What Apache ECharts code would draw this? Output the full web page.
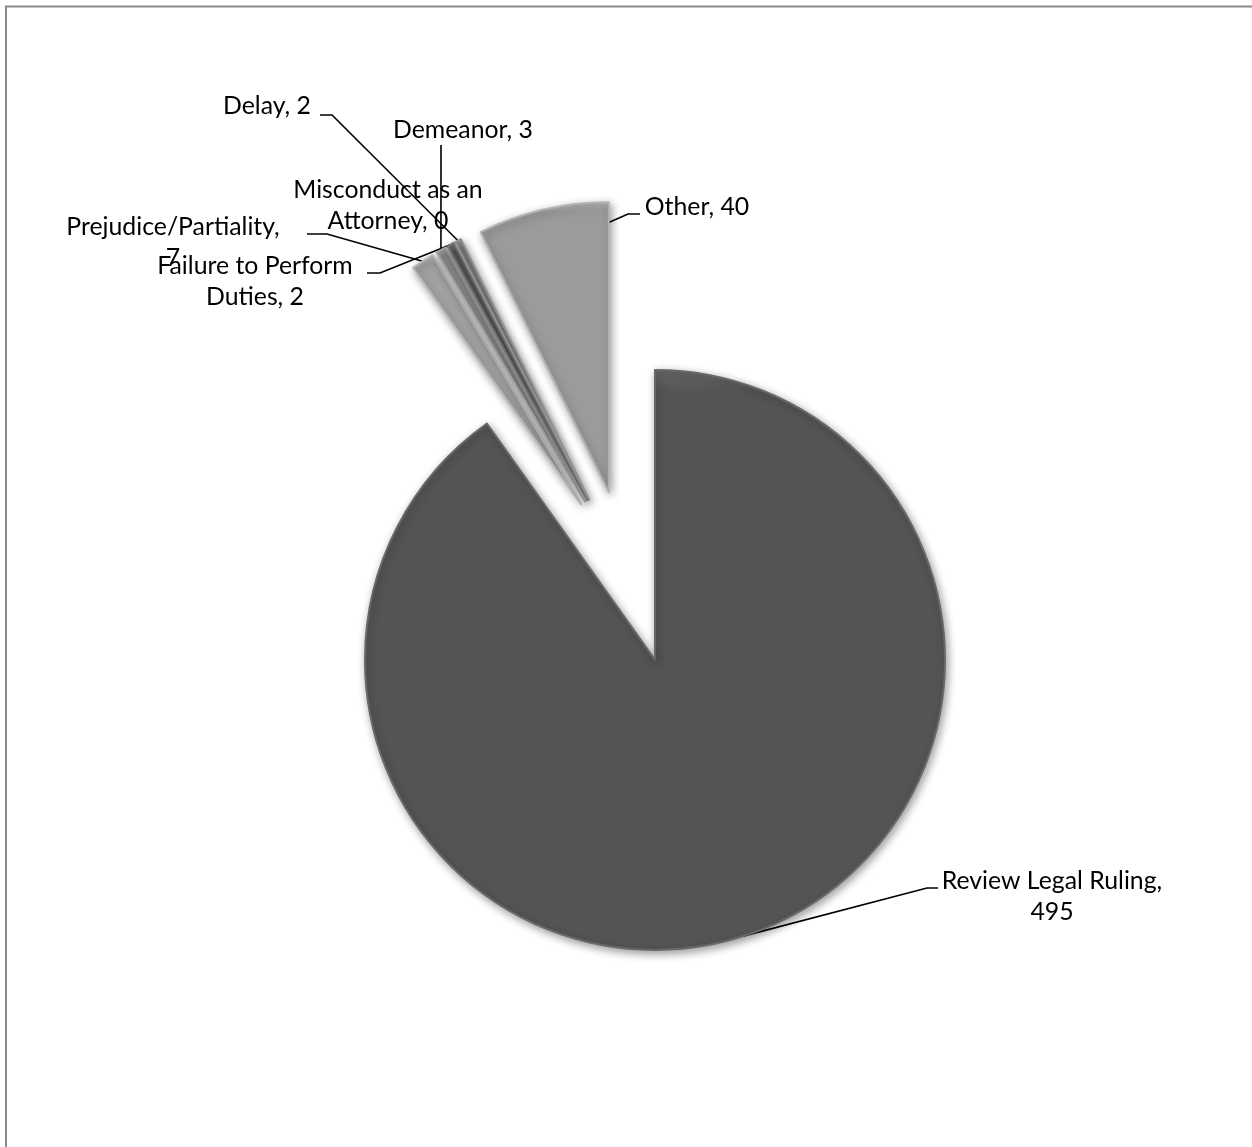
<!DOCTYPE html>
<html>
<head>
<meta charset="utf-8">
<title>Complaints by category</title>
<script src="https://cdn.jsdelivr.net/npm/echarts@6/dist/echarts.min.js"></script>
<style>
  html, body { margin: 0; padding: 0; background: #ffffff; }
  #chart { width: 1252px; height: 1147px; }
</style>
</head>
<body>
<div id="chart"></div>
<script>
// Complaint categories, in clockwise order starting at 12 o'clock
const categories = [
  'Review Legal Ruling',
  'Prejudice/Partiality',
  'Demeanor',
  'Failure to Perform Duties',
  'Misconduct as an Attorney',
  'Delay',
  'Other'
];
const counts = [495, 7, 3, 2, 0, 2, 40];
const sliceColors = ['#545454', '#a2a2a2', '#8e8e8e', '#616161', '#6e6e6e', '#7c7c7c', '#9b9b9b'];
const rimColors   = ['#686868', '#b8b8b8', '#a4a4a4', '#777777', '#848484', '#929292', '#b2b2b2'];

// Where the category labels wrap onto a second line
const wrapPoints = ['Ruling, ', 'as an ', 'Partiality, ', 'Perform '];

// Pie geometry (pixels)
const pieCenter = [628.5, 577];
const pieRadius = 290;
const explodeDistance = 87;

// Label placement: text centre, leader elbow and leader end beside the text
const labelPlacement = [
  { pos: [1052, 897], elbow: [927, 888], end: [938, 888] },
  { pos: [173, 243],  elbow: [327, 234], end: [307, 234] },
  { pos: [463, 130],  elbow: [441, 146], end: [441, 145] },
  { pos: [255, 282],  elbow: [380, 273], end: [367, 273] },
  { pos: [388, 206],  elbow: null,       end: null },
  { pos: [267, 106],  elbow: [332, 115], end: [320, 115] },
  { pos: [697, 207],  elbow: [628, 214], end: [640, 214], anchorOnEdge: 0.93 }
];

function labelText(name, value) {
  let s = name + ', ' + value;
  wrapPoints.forEach(function (w) {
    s = s.replace(w, w.trimEnd() + '\n');
  });
  return s;
}

// light-to-dark top-down shading of a slice
function sliceFill(base, rim) {
  return {
    type: 'linear', x: 0, y: 0, x2: 0, y2: 1,
    colorStops: [
      { offset: 0, color: rim },
      { offset: 0.04, color: base },
      { offset: 1, color: base }
    ]
  };
}

const total = counts.reduce(function (a, b) { return a + b; }, 0);
const series = [];
let running = 0;

counts.forEach(function (value, i) {
  const a0 = running / total * Math.PI * 2;
  running += value;
  const a1 = running / total * Math.PI * 2;
  const mid = (a0 + a1) / 2;
  // each slice is pulled out along its own bisector
  const cx = pieCenter[0] + explodeDistance * Math.sin(mid);
  const cy = pieCenter[1] - explodeDistance * Math.cos(mid);
  const place = labelPlacement[i];

  series.push({
    type: 'pie',
    center: [cx, cy],
    radius: pieRadius,
    startAngle: 90,
    clockwise: true,
    avoidLabelOverlap: false,
    silent: true,
    animation: false,
    emphasis: { disabled: true },
    label: {
      show: false,
      position: 'outside',
      color: '#000000',
      fontFamily: 'Lato, "Open Sans", sans-serif',
      fontSize: 24.8,
      lineHeight: 31,
      align: 'center',
      formatter: function (p) { return labelText(p.name, p.value); }
    },
    labelLine: {
      show: false,
      length: 10,
      length2: 10,
      lineStyle: { color: '#000000', width: 1.6 }
    },
    labelLayout: function (params) {
      if (params.dataIndex !== i) { return {}; }
      const out = {
        x: place.pos[0],
        y: place.pos[1],
        align: 'center',
        verticalAlign: 'middle'
      };
      if (place.elbow && params.labelLinePoints) {
        let start = params.labelLinePoints[0];
        if (place.anchorOnEdge) {
          const r = pieRadius * place.anchorOnEdge;
          start = [cx + r * Math.sin(a1), cy - r * Math.cos(a1)];
        }
        out.labelLinePoints = [start, place.elbow, place.end];
      }
      return out;
    },
    data: categories.map(function (name, j) {
      const own = j === i;
      return {
        name: name,
        value: counts[j],
        itemStyle: own ? {
          color: sliceFill(sliceColors[j], rimColors[j]),
          borderColor: rimColors[j],
          borderWidth: 2,
          shadowBlur: 9,
          shadowOffsetX: 2,
          shadowOffsetY: 3,
          shadowColor: 'rgba(0,0,0,0.38)'
        } : {
          color: 'rgba(0,0,0,0)',
          borderWidth: 0,
          shadowBlur: 0
        },
        label: { show: own },
        labelLine: { show: own && !!place.elbow }
      };
    })
  });
});

const chart = echarts.init(document.getElementById('chart'), null, { renderer: 'canvas' });
chart.setOption({
  backgroundColor: '#ffffff',
  animation: false,
  graphic: [{
    type: 'rect',
    silent: true,
    shape: { x: 6, y: 6.5, width: 1300, height: 1200 },
    style: { fill: 'none', stroke: '#8a8a8a', lineWidth: 2 }
  }],
  series: series
});
</script>
</body>
</html>
